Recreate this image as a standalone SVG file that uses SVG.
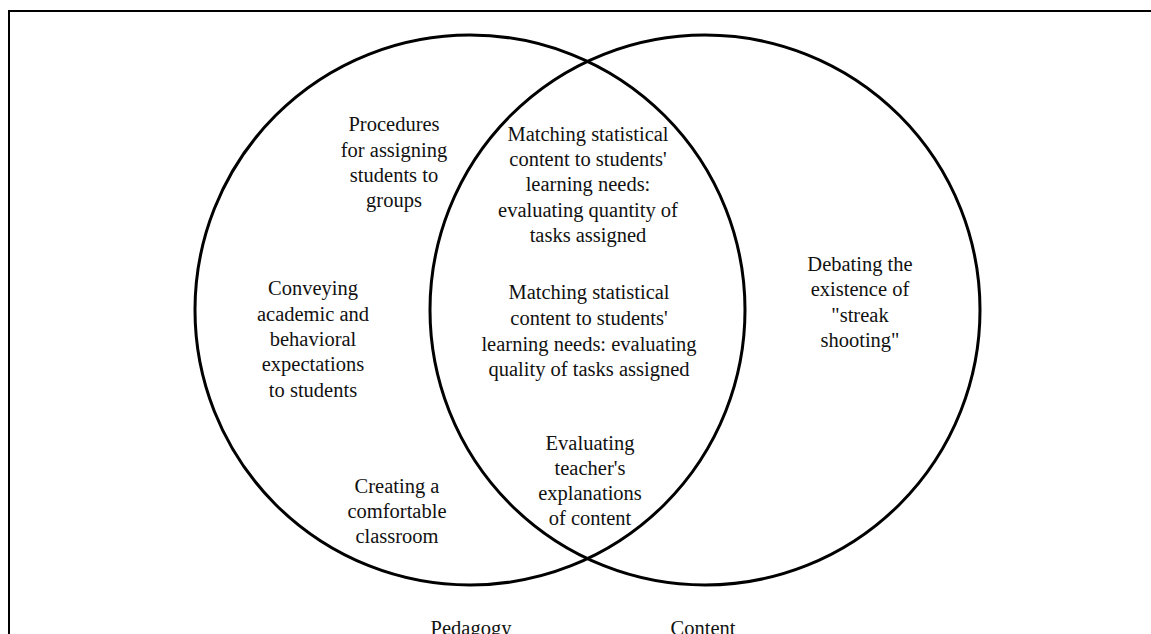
<svg xmlns="http://www.w3.org/2000/svg" width="1151" height="634" viewBox="0 0 1151 634">
  <style>
    .ring { fill: none; stroke: #000; stroke-width: 3; }
    .frame { fill: none; stroke: #000; stroke-width: 2; }
    text { font-family: "Liberation Serif", "Times New Roman", serif; font-size: 20.5px; fill: #111; text-anchor: middle; }
  </style>
  <rect width="1151" height="634" fill="#fff"/>
  <!-- outer frame: top and left edges -->
  <path class="frame" d="M9 634 V11 H1151"/>

  <g id="connectors"></g>

  <!-- two overlapping sets -->
  <g id="pedagogy-set">
    <circle class="ring" cx="470" cy="310" r="275"/>
  </g>
  <g id="content-set">
    <circle class="ring" cx="705" cy="310" r="275"/>
  </g>

  <g id="procedures">
    <text x="394" y="131">Procedures</text>
    <text x="394" y="157">for assigning</text>
    <text x="394" y="182">students to</text>
    <text x="394" y="207">groups</text>
  </g>

  <g id="conveying">
    <text x="313" y="295">Conveying</text>
    <text x="313" y="320.5">academic and</text>
    <text x="313" y="346">behavioral</text>
    <text x="313" y="371">expectations</text>
    <text x="313" y="396.5">to students</text>
  </g>

  <g id="comfortable">
    <text x="397" y="492.5">Creating a</text>
    <text x="397" y="518">comfortable</text>
    <text x="397" y="543">classroom</text>
  </g>

  <g id="quantity">
    <text x="588" y="140.5">Matching statistical</text>
    <text x="588" y="166">content to students'</text>
    <text x="588" y="191">learning needs:</text>
    <text x="588" y="216.5">evaluating quantity of</text>
    <text x="588" y="241.5">tasks assigned</text>
  </g>

  <g id="quality">
    <text x="589" y="299">Matching statistical</text>
    <text x="589" y="325">content to students'</text>
    <text x="589" y="350.5">learning needs: evaluating</text>
    <text x="589" y="376">quality of tasks assigned</text>
  </g>

  <g id="explanations">
    <text x="590" y="450">Evaluating</text>
    <text x="590" y="475">teacher's</text>
    <text x="590" y="500">explanations</text>
    <text x="590" y="525">of content</text>
  </g>

  <g id="streak">
    <text x="860" y="270.5">Debating the</text>
    <text x="860" y="296">existence of</text>
    <text x="860" y="321.5">"streak</text>
    <text x="860" y="346.5">shooting"</text>
  </g>

  <g id="labels">
    <text x="471" y="635">Pedagogy</text>
    <text x="703" y="635">Content</text>
  </g>
</svg>
